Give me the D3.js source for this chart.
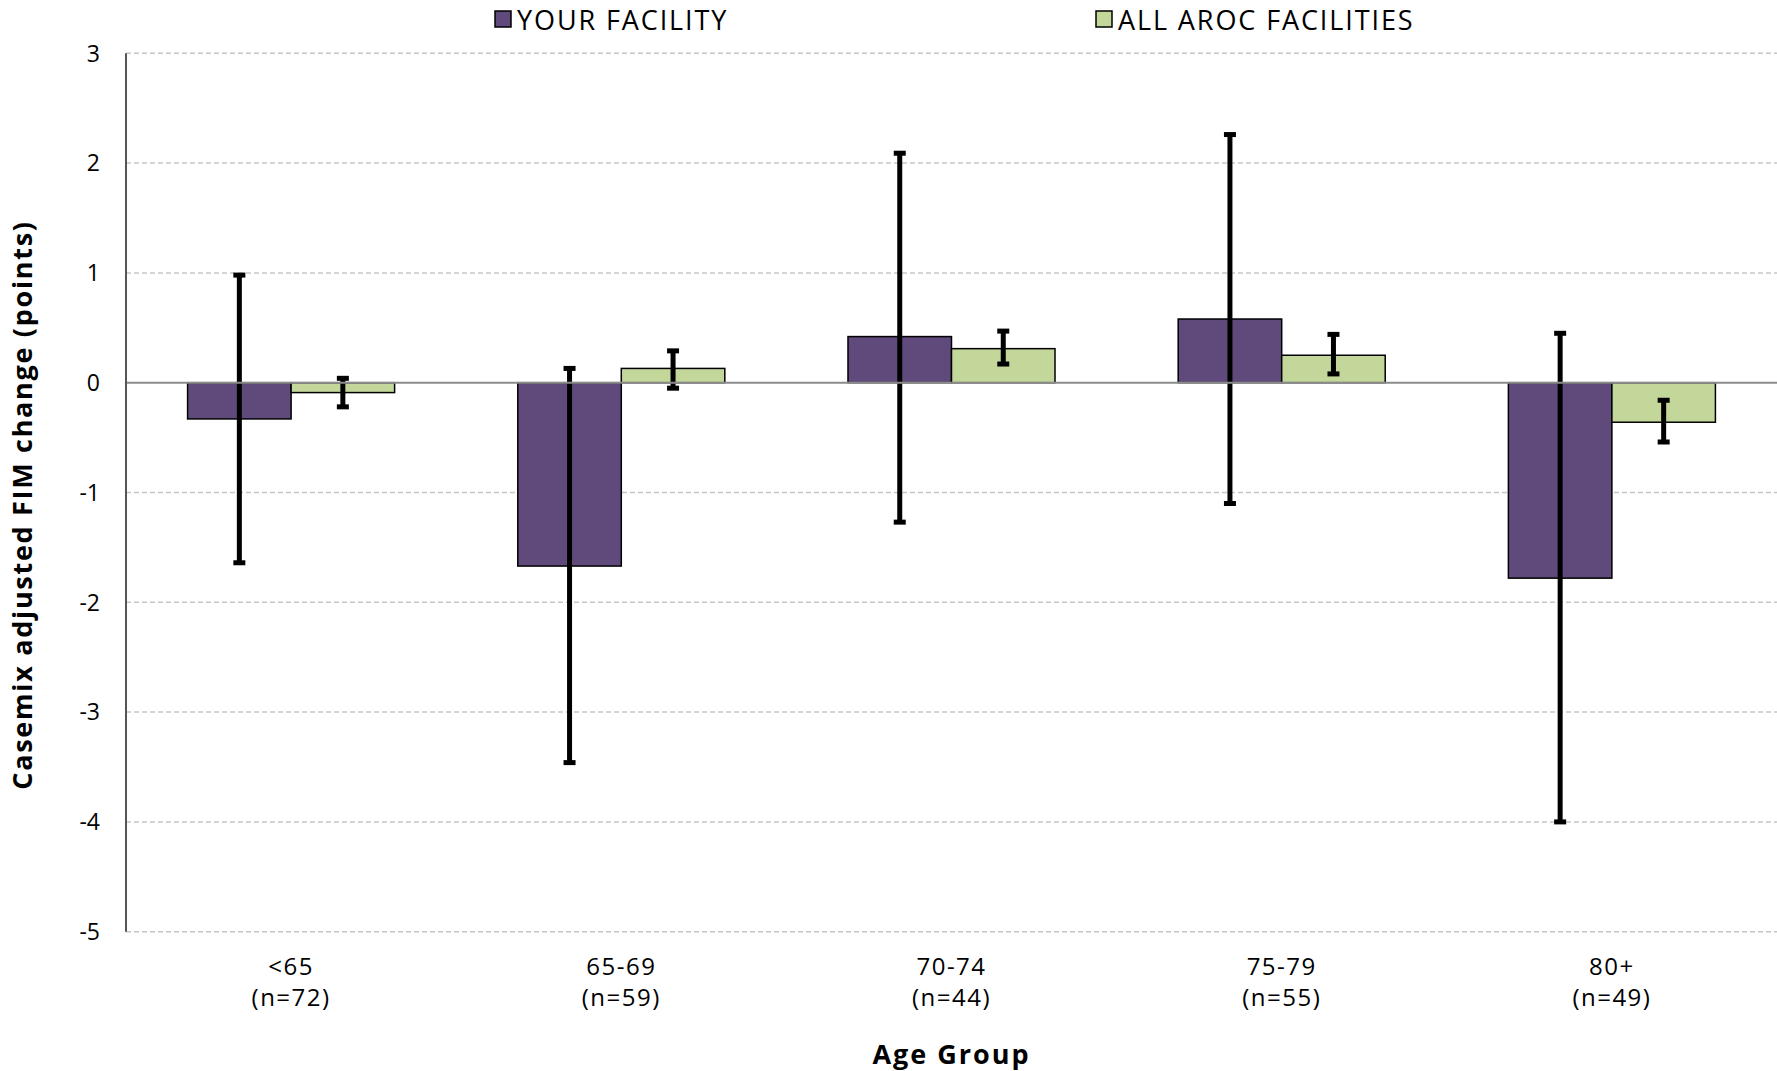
<!DOCTYPE html>
<html>
<head>
<meta charset="utf-8">
<script src="https://cdn.jsdelivr.net/npm/d3@7"></script>
<style>
    body { margin: 0; background: #fff; }
    text { font-family: "Open Sans", "DejaVu Sans", sans-serif; fill: #000; }
</style>
</head>
<body>
<script>
// age groups and their counts
var ageGroups = ["<65", "65-69", "70-74", "75-79", "80+"];
var groupCounts = ["(n=72)", "(n=59)", "(n=44)", "(n=55)", "(n=49)"];

// series: mean change with lower / upper confidence limits
var seriesNames = ["YOUR FACILITY", "ALL AROC FACILITIES"];
var facilityValues = [-0.33, -1.67, 0.42, 0.58, -1.78];
var facilityLow = [-1.64, -3.46, -1.27, -1.10, -4.00];
var facilityHigh = [0.98, 0.13, 2.09, 2.26, 0.45];
var arocValues = [-0.09, 0.13, 0.31, 0.25, -0.36];
var arocLow = [-0.22, -0.05, 0.17, 0.08, -0.54];
var arocHigh = [0.04, 0.29, 0.47, 0.44, -0.16];

var yTicks = [3, 2, 1, 0, -1, -2, -3, -4, -5];
var seriesColors = ["#604a7b", "#c4d79b"];

var width = 1777, height = 1071;
var margin = {top: 53, right: 0, bottom: 139, left: 126};

var svg = d3.select("body").append("svg")
    .attr("width", width)
    .attr("height", height);

var x0 = d3.scaleBand()
    .domain(ageGroups)
    .range([margin.left, width - margin.right])
    .paddingInner(0)
    .paddingOuter(0);

// two bars of ~104px in a 330px band
var x1 = d3.scaleBand()
    .domain([0, 1])
    .range([0, x0.bandwidth()])
    .paddingOuter(0.595)
    .paddingInner(0);

var y = d3.scaleLinear()
    .domain([-5, 3])
    .range([931.7, 53.3]);

// grid lines
svg.append("g")
    .selectAll("line")
    .data(yTicks.filter(function(d) { return d !== 0; }))
    .enter().append("line")
    .attr("x1", margin.left)
    .attr("x2", width)
    .attr("y1", function(d) { return y(d); })
    .attr("y2", function(d) { return y(d); })
    .style("stroke", "#c6c6c6")
    .style("stroke-width", 1.5)
    .style("stroke-dasharray", "5,3");

// y tick labels
svg.append("g")
    .selectAll("text")
    .data(yTicks)
    .enter().append("text")
    .attr("x", 100)
    .attr("y", function(d) { return y(d); })
    .attr("dy", "0.36em")
    .style("text-anchor", "end")
    .style("font-size", "23px")
    .text(function(d) { return d; });

var series = [
    {values: facilityValues, low: facilityLow, high: facilityHigh},
    {values: arocValues, low: arocLow, high: arocHigh}
];

var groups = svg.append("g")
    .selectAll("g")
    .data(series)
    .enter().append("g");

groups.each(function(s, si) {
    var g = d3.select(this);
    g.selectAll("rect")
        .data(s.values)
        .enter().append("rect")
        .attr("x", function(d, i) { return x0(ageGroups[i]) + x1(si); })
        .attr("width", x1.bandwidth())
        .attr("y", function(d) { return y(Math.max(0, d)); })
        .attr("height", function(d) { return Math.abs(y(d) - y(0)); })
        .style("fill", seriesColors[si])
        .style("stroke", "#000")
        .style("stroke-width", 1.5);
});

// zero line
svg.append("line")
    .attr("x1", margin.left)
    .attr("x2", width)
    .attr("y1", y(0))
    .attr("y2", y(0))
    .style("stroke", "#8c8c8c")
    .style("stroke-width", 2);

// error bars
groups.each(function(s, si) {
    var g = d3.select(this).append("g");
    s.values.forEach(function(d, i) {
        var cx = x0(ageGroups[i]) + x1(si) + x1.bandwidth() / 2;
        g.append("line")
            .attr("x1", cx).attr("x2", cx)
            .attr("y1", y(s.high[i])).attr("y2", y(s.low[i]))
            .style("stroke", "#000")
            .style("stroke-width", 5);
        [s.high[i], s.low[i]].forEach(function(v) {
            g.append("line")
                .attr("x1", cx - 6).attr("x2", cx + 6)
                .attr("y1", y(v)).attr("y2", y(v))
                .style("stroke", "#000")
                .style("stroke-width", 5);
        });
    });
});

// left axis line
svg.append("line")
    .attr("x1", margin.left)
    .attr("x2", margin.left)
    .attr("y1", y(3))
    .attr("y2", y(-5))
    .style("stroke", "#555")
    .style("stroke-width", 2);

// x labels
var xLabels = svg.append("g")
    .selectAll("text")
    .data(ageGroups)
    .enter().append("text")
    .attr("x", function(d) { return x0(d) + x0.bandwidth() / 2; })
    .attr("y", 975)
    .style("text-anchor", "middle")
    .style("font-size", "24px")
    .style("letter-spacing", "1.5px");
xLabels.append("tspan")
    .attr("x", function(d) { return x0(d) + x0.bandwidth() / 2; })
    .text(function(d) { return d; });
xLabels.append("tspan")
    .attr("x", function(d) { return x0(d) + x0.bandwidth() / 2; })
    .attr("dy", 31)
    .text(function(d, i) { return groupCounts[i]; });

// axis titles
svg.append("text")
    .attr("x", (margin.left + width) / 2)
    .attr("y", 1064)
    .style("text-anchor", "middle")
    .style("font-size", "27px")
    .style("font-weight", "bold")
    .style("letter-spacing", "2px")
    .text("Age Group");

svg.append("text")
    .attr("transform", "translate(32,505) rotate(-90)")
    .style("text-anchor", "middle")
    .style("font-size", "27px")
    .style("font-weight", "bold")
    .style("letter-spacing", "1.7px")
    .text("Casemix adjusted FIM change (points)");

// legend
var legendX = [495, 1096];
var legend = svg.append("g")
    .selectAll("g")
    .data(seriesNames)
    .enter().append("g")
    .attr("transform", function(d, i) { return "translate(" + legendX[i] + ",11)"; });
legend.append("rect")
    .attr("width", 16)
    .attr("height", 16)
    .style("fill", function(d, i) { return seriesColors[i]; })
    .style("stroke", "#000")
    .style("stroke-width", 1.5);
legend.append("text")
    .attr("x", 22)
    .attr("y", 9)
    .attr("dy", "0.36em")
    .style("font-size", "27px")
    .style("letter-spacing", "1.9px")
    .text(function(d) { return d; });
</script>
</body>
</html>
